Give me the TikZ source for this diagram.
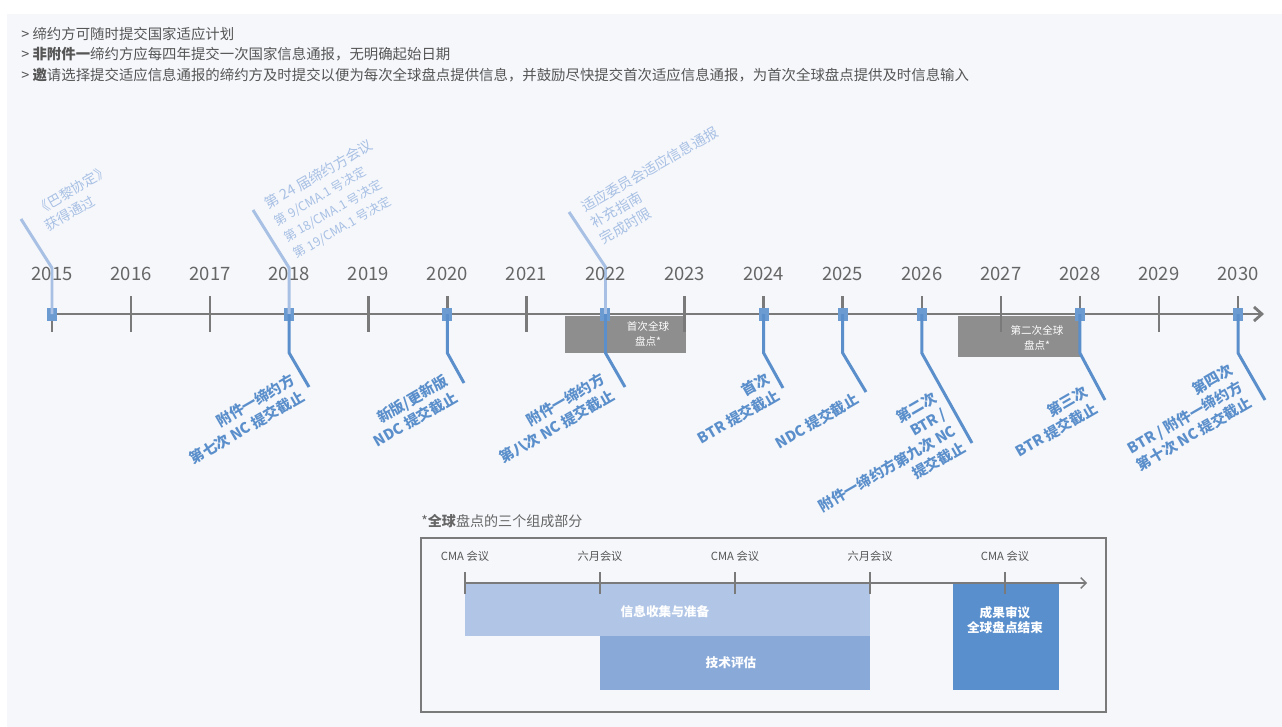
\documentclass[tikz,border=0pt]{standalone}
\usepackage{fontspec}
\setmainfont{Noto Sans CJK SC}
\usetikzlibrary{arrows.meta,calc}

\definecolor{panelbg}{HTML}{F5F7FB}
\definecolor{axisgray}{HTML}{7A7A7A}
\definecolor{textgray}{HTML}{555555}
\definecolor{yeargray}{HTML}{666666}
\definecolor{markblue}{HTML}{6C9BD2}
\definecolor{lowblue}{HTML}{5B8FCB}
\definecolor{upblue}{HTML}{A8C0E4}
\definecolor{gstgray}{HTML}{8E8E8E}
\definecolor{phaseA}{HTML}{B1C6E6}
\definecolor{phaseB}{HTML}{89A9D9}
\definecolor{phaseC}{HTML}{5A8FCD}

\tikzset{
  toptext/.style={anchor=west, inner sep=0pt, text=textgray, font=\fontsize{8.2}{9.5}\selectfont},
  yearlabel/.style={inner sep=0pt, text=yeargray, font=\fontsize{10.5}{12}\selectfont},
  yeartick/.style={draw=axisgray, line width=1.4pt},
  mainaxis/.style={draw=axisgray, line width=1.6pt, -{Straight Barb[length=4.5pt,width=8pt]}},
  marker/.style={fill=markblue, inner sep=0pt, minimum width=0.2cm, minimum height=0.26cm},
  upleader/.style={draw=upblue, line width=1.7pt},
  lowleader/.style={draw=lowblue, line width=1.7pt},
  uplabel/.style={rotate=30, anchor=north west, align=left, inner sep=0pt, text=upblue,
    font=\fontsize{7.8}{10.8}\selectfont},
  lowlabel/.style={rotate=30, anchor=north east, align=right, inner sep=0pt, text=lowblue,
    font=\fontsize{8.3}{10.8}\selectfont\bfseries},
  gsttext/.style={align=center, inner sep=0pt, text=white, font=\fontsize{6}{8.8}\selectfont},
  meetlabel/.style={inner sep=0pt, text=textgray, font=\fontsize{6.4}{8}\selectfont},
  phasetext/.style={align=center, inner sep=0pt, text=white, font=\fontsize{7.2}{9}\selectfont\bfseries},
}

\begin{document}
\begin{tikzpicture}[x=0.02cm, y=0.02cm]
	\useasboundingbox[fill=white] (0,0) rectangle (1282,-727);
	\fill[panelbg] (7,-14) rectangle (1282,-727);
	%
	\node[toptext] (note1) at (21,-34) {> 缔约方可随时提交国家适应计划};
	\node[toptext] (note2) at (21,-54) {> \textbf{非附件一}缔约方应每四年提交一次国家信息通报，无明确起始日期};
	\node[toptext] (note3) at (21,-75) {> \textbf{邀}请选择提交适应信息通报的缔约方及时提交以便为每次全球盘点提供信息，并鼓励尽快提交首次适应信息通报，为首次全球盘点提供及时信息输入};
	%
	\fill[gstgray] (565,-316) rectangle (686,-353);
	\fill[gstgray] (958,-316) rectangle (1080,-357);
	\node[gsttext] (gst1) at (648,-334) {首次全球\\盘点*};
	\node[gsttext] (gst2) at (1037,-338) {第二次全球\\盘点*};
	%
	\foreach \yr [count=\i from 0] in {2015,...,2030}{
		\pgfmathsetmacro{\yx}{52+79.07*\i}
		\coordinate (k\yr) at (\yx,-314);
		\draw[yeartick] (\yx,-296) -- (\yx,-332);
	}
	\draw[mainaxis] (48,-314) -- (1264,-314);
	%
	\foreach \yr in {2015,2018,2020,2022,2024,2025,2026,2028,2030}
		\node[marker] (m\yr) at (k\yr) {};
	%
	\coordinate (u2015) at (21,-219);
	\coordinate (u2018) at (253,-210);
	\coordinate (u2022) at (569,-212);
	\draw[upleader] (m2015.center) -- ++(0,46) -- (u2015);
	\draw[upleader] (m2018.center) -- ++(0,46) -- (u2018);
	\draw[upleader] (m2022.center) -- ++(0,47) -- (u2022);
	%
	\foreach \yr/\ex/\ey in {2018/309/387, 2020/464/383, 2022/625/387, 2024/783/388,
		2025/866/392, 2026/972/443, 2028/1105/400, 2030/1265/400}{
		\coordinate (d\yr) at (\ex,-\ey);
		\draw[lowleader] (m\yr.center) -- ++(0,-39) -- (d\yr);
	}
	%
	\foreach \yr in {2015,...,2030}
		\node[yearlabel] (y\yr) at ($(k\yr)+(0,40)$) {\yr};
	%
	\node[uplabel] (t2015) at (33,-205) {《巴黎协定》\\获得通过};
	\node[uplabel] (t2018) at (262,-199) {{\fontsize{8.1}{10.5}\selectfont 第 24 届缔约方会议}\\
		{\fontsize{7.1}{9.8}\selectfont 第 9/CMA.1 号决定}\\
		{\fontsize{7.1}{9.8}\selectfont 第 18/CMA.1 号决定}\\
		{\fontsize{7.1}{9.8}\selectfont 第 19/CMA.1 号决定}};
	\node[uplabel, font=\fontsize{8}{10.5}\selectfont] (t2022) at (579,-202) {适应委员会适应信息通报\\补充指南\\完成时限};
	%
	\node[lowlabel] (b2018) at (290,-372) {附件一缔约方\\第七次 NC 提交截止};
	\node[lowlabel] (b2020) at (443,-373) {新版/更新版\\NDC 提交截止};
	\node[lowlabel] (b2022) at (600,-371) {附件一缔约方\\第八次 NC 提交截止};
	\node[lowlabel] (b2024) at (765,-371) {首次\\BTR 提交截止};
	\node[lowlabel] (b2025) at (854,-391) {NDC 提交截止};
	\node[lowlabel] (b2026) at (932,-390) {第二次\\BTR /\\附件一缔约方第九次 NC\\提交截止};
	\node[lowlabel] (b2028) at (1083,-384) {第三次\\BTR 提交截止};
	\node[lowlabel] (b2030) at (1228,-362) {第四次\\BTR / 附件一缔约方\\第十次 NC 提交截止};
	%
	\node[anchor=west, inner sep=0pt, text=yeargray, font=\fontsize{8}{10}\selectfont] (gstnote) at (421,-521) {*\textbf{全球}盘点的三个组成部分};
	\draw[axisgray, line width=1.4pt] (421,-538) rectangle (1106,-712);
	\fill[phaseA] (465,-584) rectangle (870,-636);
	\fill[phaseB] (600,-636) rectangle (870,-690);
	\fill[phaseC] (953,-584) rectangle (1059,-690);
	\node[phasetext] (info) at (665,-612) {信息收集与准备};
	\node[phasetext] (tech) at (731,-663) {技术评估};
	\node[phasetext] (review) at (1005,-620) {成果审议\\全球盘点结束};
	\draw[axisgray, line width=0.8pt, -{Straight Barb[length=3pt,width=6pt]}] (464,-583) -- (1087,-583);
	\foreach \mx/\mt [count=\j] in {465/CMA 会议, 600/六月会议, 735/CMA 会议, 870/六月会议, 1005/CMA 会议}{
		\draw[axisgray, line width=0.8pt] (\mx,-572) -- (\mx,-594);
		\node[meetlabel] (mt\j) at (\mx,-556) {\mt};
	}
\end{tikzpicture}
\end{document}
